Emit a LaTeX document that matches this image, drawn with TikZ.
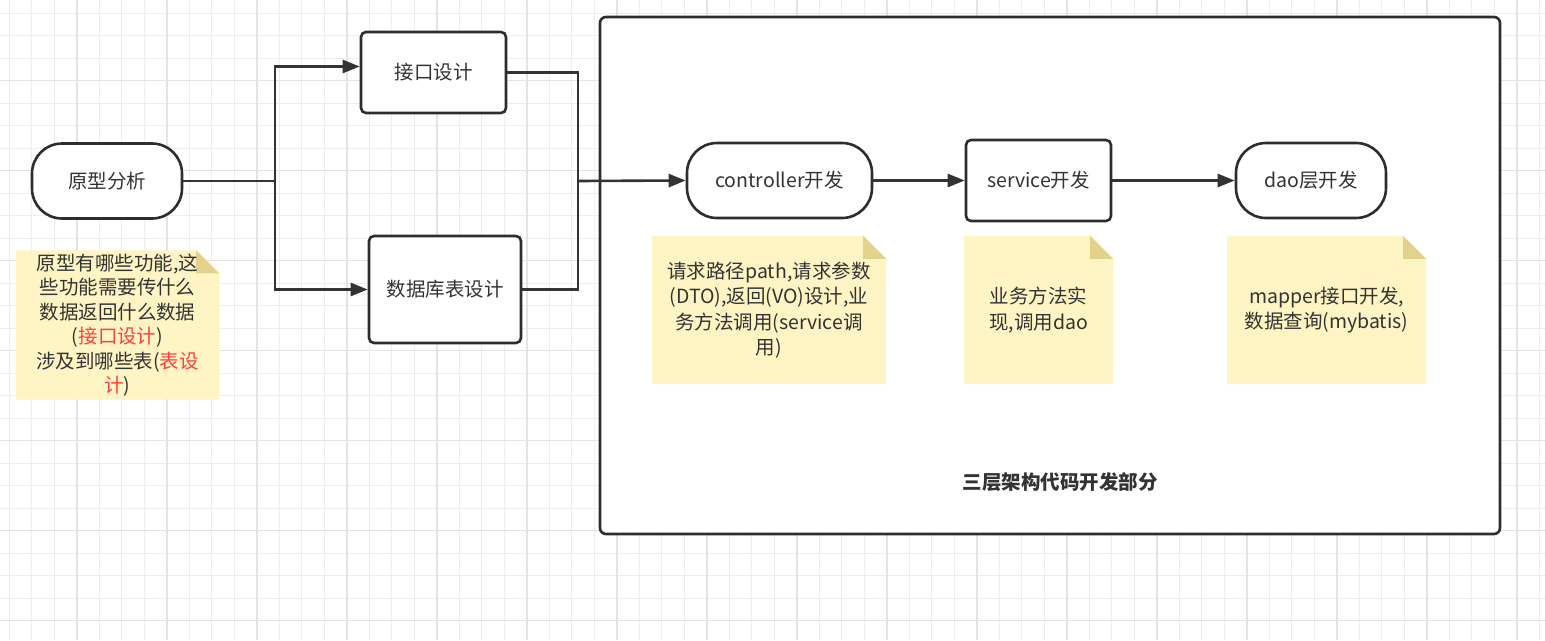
\documentclass[tikz,border=0pt]{standalone}
\usepackage{fontspec}
\setmainfont{Noto Sans CJK SC}
\usetikzlibrary{arrows.meta}
\pgfdeclarelayer{gridlayer}
\pgfdeclarelayer{notelayer}
\pgfsetlayers{gridlayer,notelayer,main}
\definecolor{inkgray}{HTML}{333333}
\definecolor{edgegray}{HTML}{2A2E33}
\definecolor{notefill}{HTML}{FFF4C3}
\definecolor{notefold}{HTML}{E3D28C}
\definecolor{hotred}{HTML}{FF4040}
\definecolor{gridminor}{HTML}{EEEEEE}
\definecolor{gridmajor}{HTML}{E4E4E4}
\tikzset{
  every node/.style={font=\fontsize{19.5}{24.5}\selectfont, text=inkgray},
  stadium/.style={draw=edgegray, line width=2.6pt, rounded corners=30pt, minimum height=75pt, fill=white},
  taskbox/.style={draw=edgegray, line width=2.6pt, rounded corners=5pt, fill=white},
  notebox/.style={align=center, inner sep=0pt},
  widenote/.style={notebox, font=\fontsize{19.5}{25.5}\selectfont},
  wire/.style={draw=inkgray, line width=2.6pt},
  flow/.style={wire, -{Triangle[length=17pt,width=13pt]}},
}
% sticky note background with folded corner
\newcommand\notefold[1]{%
  \fill[notefill] (#1.north west) -- ([xshift=-23pt]#1.north east) -- ([yshift=-23pt]#1.north east)
    -- (#1.south east) -- (#1.south west) -- cycle;
  \fill[notefold] ([xshift=-23pt]#1.north east) -- ([xshift=-23pt,yshift=-23pt]#1.north east)
    -- ([yshift=-23pt]#1.north east) -- cycle;}
\begin{document}
\begin{tikzpicture}[x=1pt,y=-1pt]
  \useasboundingbox (0,0) rectangle (1545,640);
  \begin{pgfonlayer}{gridlayer}
    \fill[white] (0,0) rectangle (1545,640);
    \foreach \k in {0,...,68} \draw[gridminor, line width=1pt] ({9.3+22.5*\k},0) -- ++(0,640);
    \foreach \k in {0,...,27} \draw[gridminor, line width=1pt] (0,{13+22.5*\k}) -- ++(1545,0);
    \foreach \k in {0,...,16} \draw[gridmajor, line width=1.4pt] ({76.8+90*\k},0) -- ++(0,640);
    \foreach \k in {0,...,6} \draw[gridmajor, line width=1.4pt] (0,{80.5+90*\k}) -- ++(1545,0);
    % three-layer frame
    \node[draw=edgegray, line width=2.6pt, rounded corners=6pt, fill=white,
      minimum width=900pt, minimum height=517pt] (frame) at (1050,275.5) {};
  \end{pgfonlayer}

  \node[stadium, minimum width=150pt] (proto) at (107,181) {原型分析};
  \node[taskbox, minimum width=145pt, minimum height=81pt] (api) at (433.5,72.5) {接口设计};
  \node[taskbox, minimum width=152pt, minimum height=107pt] (dbtable) at (445,289.5) {数据库表设计};
  \node[stadium, minimum width=185pt] (ctrl) at (779.5,180.5) {controller开发};
  \node[taskbox, minimum width=145pt, minimum height=81pt] (svc) at (1038.5,180.5) {service开发};
  \node[stadium, minimum width=150pt] (dao) at (1311,180.5) {dao层开发};
  \node[font=\fontsize{19.5}{24.5}\selectfont\bfseries] (title) at (1060,482) {三层架构代码开发部分};

  \node[notebox, minimum width=203pt, minimum height=149pt] (protonote) at (117.5,325)
    {原型有哪些功能,这\\些功能需要传什么\\数据返回什么数据\\(\textcolor{hotred}{接口设计})\\涉及到哪些表(\textcolor{hotred}{表设}\\\textcolor{hotred}{计})};
  \node[widenote, minimum width=234pt, minimum height=148pt] (ctrlnote) at (769,310)
    {请求路径path,请求参数\\(DTO),返回(VO)设计,业\\务方法调用(service调\\用)};
  \node[widenote, minimum width=149pt, minimum height=148pt] (svcnote) at (1038.5,310)
    {业务方法实\\现,调用dao};
  \node[widenote, minimum width=199pt, minimum height=148pt] (daonote) at (1326.5,310)
    {mapper接口开发,\\数据查询(mybatis)};
  \begin{pgfonlayer}{notelayer}
    \notefold{protonote}
    \notefold{ctrlnote}
    \notefold{svcnote}
    \notefold{daonote}
  \end{pgfonlayer}

  \coordinate (split) at (275,181);
  \coordinate (merge) at (578,181);
  \draw[wire] (proto.east) -- (split);
  \draw[flow] (split) |- ([yshift=6pt]api.west);
  \draw[flow] (split) |- (dbtable.west);
  \draw[wire] (api.east) -| (merge);
  \draw[wire] (dbtable.east) -| (merge);
  \draw[flow] (merge) -- (ctrl.west);
  \draw[flow] (ctrl) -- (svc);
  \draw[flow] (svc) -- (dao);
\end{tikzpicture}
\end{document}
